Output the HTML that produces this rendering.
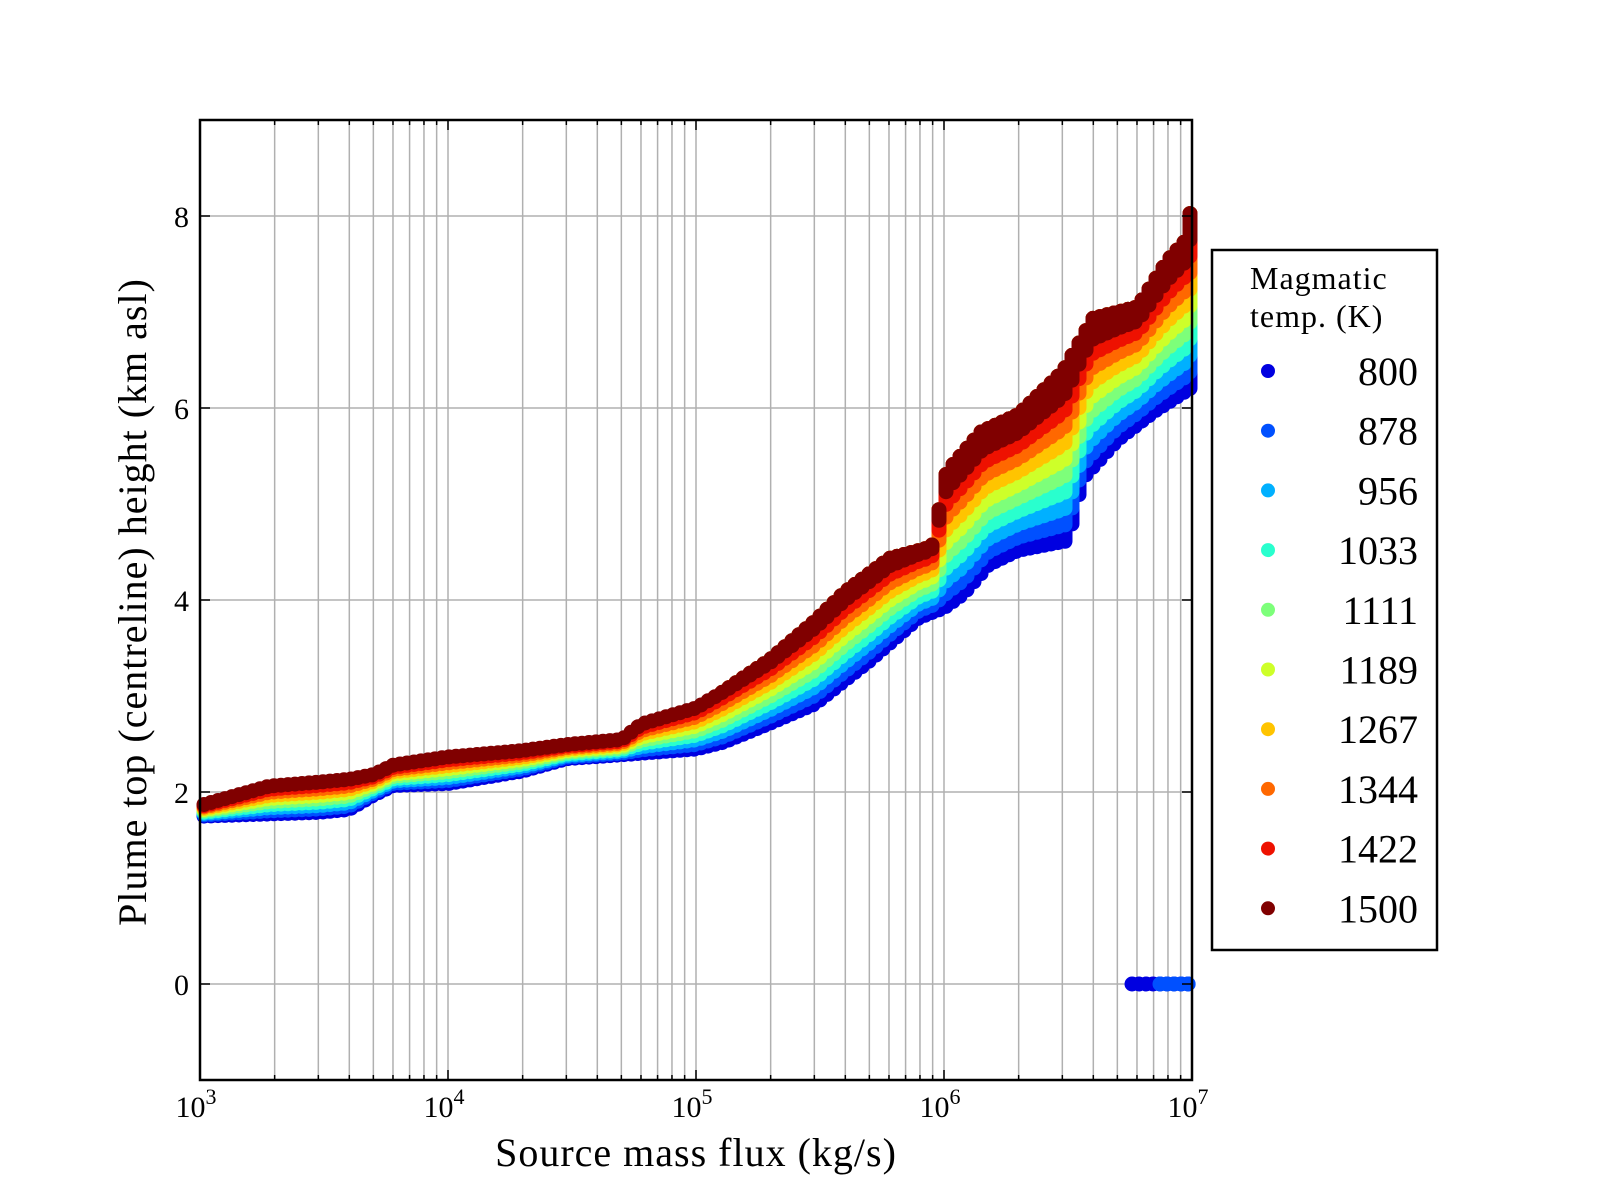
<!DOCTYPE html>
<html><head><meta charset="utf-8"><style>
html,body{margin:0;padding:0;background:#fff;}
svg{display:block;}
text{font-family:"Liberation Serif",serif;fill:#000;}
</style></head><body>
<svg id="s" width="1600" height="1200" viewBox="0 0 1600 1200" xmlns="http://www.w3.org/2000/svg">
<g id="grid" stroke="#b0b0b0" stroke-width="1.5"></g>
<g id="data"></g>
<rect x="200" y="120" width="992" height="960" fill="none" stroke="#000" stroke-width="2.5"/>
<g id="ticks" stroke="#000" stroke-width="1.5"></g>
<g font-size="30" text-anchor="end">
<text x="189" y="995">0</text>
<text x="189" y="803">2</text>
<text x="189" y="611">4</text>
<text x="189" y="419">6</text>
<text x="189" y="227">8</text>
</g>
<g font-size="30" text-anchor="middle">
<text x="196" y="1117">10<tspan dy="-13" font-size="22">3</tspan></text>
<text x="444" y="1117">10<tspan dy="-13" font-size="22">4</tspan></text>
<text x="692" y="1117">10<tspan dy="-13" font-size="22">5</tspan></text>
<text x="940" y="1117">10<tspan dy="-13" font-size="22">6</tspan></text>
<text x="1188" y="1117">10<tspan dy="-13" font-size="22">7</tspan></text>
</g>
<text x="696" y="1166" font-size="40" letter-spacing="1" text-anchor="middle">Source mass flux (kg/s)</text>
<text transform="translate(146,602) rotate(-90)" font-size="40" letter-spacing="1" text-anchor="middle">Plume top (centreline) height (km asl)</text>
<rect x="1212" y="250" width="225" height="700" fill="#fff" stroke="#000" stroke-width="2.5"/>
<text x="1250" y="289" font-size="32" letter-spacing="1">Magmatic</text>
<text x="1250" y="327" font-size="32" letter-spacing="1">temp. (K)</text>
<g id="leg" font-size="40" text-anchor="end"></g>
</svg>
<script>
var ns="http://www.w3.org/2000/svg";
function el(p,t,a){var e=document.createElementNS(ns,t);for(var k in a)e.setAttribute(k,a[k]);p.appendChild(e);return e;}
var X=function(v){return 200+(Math.log10(v)-3)*248;};
var Y=function(h){return 1080-(h+1)*96;};
var g=document.getElementById('grid'),tk=document.getElementById('ticks');
for(var d=3;d<7;d++)for(var m=1;m<10;m++){var x=X(m*Math.pow(10,d));if(m>1||d>3){el(g,'line',{x1:x,y1:120,x2:x,y2:1080});}
 var L=m==1?10:5;el(tk,'line',{x1:x,y1:1080,x2:x,y2:1080-L});el(tk,'line',{x1:x,y1:120,x2:x,y2:120+L});}
[0,2,4,6,8].forEach(function(h){var y=Y(h);el(g,'line',{x1:200,y1:y,x2:1192,y2:y});el(tk,'line',{x1:200,y1:y,x2:210,y2:y});el(tk,'line',{x1:1192,y1:y,x2:1182,y2:y});});
var cols=['#0000e0','#0050ff','#00b0ff','#29ffce','#7dff7a','#ceff29','#ffc400','#ff6800','#ee1100','#800000'];
var labs=['800','878','956','1033','1111','1189','1267','1344','1422','1500'];
var lg=document.getElementById('leg');
for(var i=0;i<10;i++){var cy=371+59.7*i;el(lg,'circle',{cx:1268,cy:cy,r:7,fill:cols[i]});var t=el(lg,'text',{x:1418,y:cy+14});t.textContent=labs[i];}
var topC=[[3,1.82],[3.28,2.07],[3.7,2.17],[3.78,2.27],[4,2.37],[4.3,2.42],[4.7,2.52],[4.78,2.72],[5,2.92],[5.3,3.45],[5.48,3.85],[5.6,4.15],[5.78,4.5],[5.95,4.62],[6.01,5.4],[6.15,5.82],[6.3,6.0],[6.48,6.45],[6.6,7.0],[6.78,7.12],[6.9,7.6],[6.97,7.8],[7,8.2]];
var botC=[[3,1.68],[3.48,1.72],[3.6,1.75],[3.7,1.9],[3.78,2.0],[4,2.02],[4.3,2.15],[4.48,2.28],[4.7,2.32],[5,2.38],[5.11,2.45],[5.3,2.65],[5.48,2.85],[5.7,3.3],[5.9,3.75],[6,3.85],[6.08,4.0],[6.18,4.3],[6.3,4.45],[6.5,4.55],[6.56,5.2],[6.7,5.6],[6.85,5.9],[7,6.15]];
function interp(a,v){for(var i=1;i<a.length;i++){if(v<=a[i][0]){var f=(v-a[i-1][0])/(a[i][0]-a[i-1][0]);return a[i-1][1]+f*(a[i][1]-a[i-1][1]);}}return a[a.length-1][1];}
var dg=document.getElementById('data');
var sw=15;
for(var i=0;i<10;i++){
 var p='';
 for(var x=204;x<=1192;x+=7){var xx=Math.min(x,1190);var lv=3+(xx-200)/248;var tp=interp(topC,lv),bt=interp(botC,lv);
  var lo=bt+(tp-bt)*i/10*0.88, hi=tp;
  var y1=Y(lo)-sw/2+1, y2=Y(hi)+sw/2-1; if(y2>y1)y2=y1;
  p+='M'+xx+' '+y1.toFixed(1)+'V'+y2.toFixed(1);}
 el(dg,'path',{d:p,stroke:cols[i],'stroke-width':sw,'stroke-linecap':'round',fill:'none'});
}
var p0='',p1='';
for(var x=1132;x<=1190;x+=7){p0+='M'+x+' '+Y(0)+'h0.1';}
el(dg,'path',{d:p0,stroke:'#0000e0','stroke-width':15,'stroke-linecap':'round'});
for(var x=1160;x<=1190;x+=7){p1+='M'+x+' '+Y(0)+'h0.1';}
el(dg,'path',{d:p1,stroke:'#0050ff','stroke-width':15,'stroke-linecap':'round'});
</script>
</body></html>
